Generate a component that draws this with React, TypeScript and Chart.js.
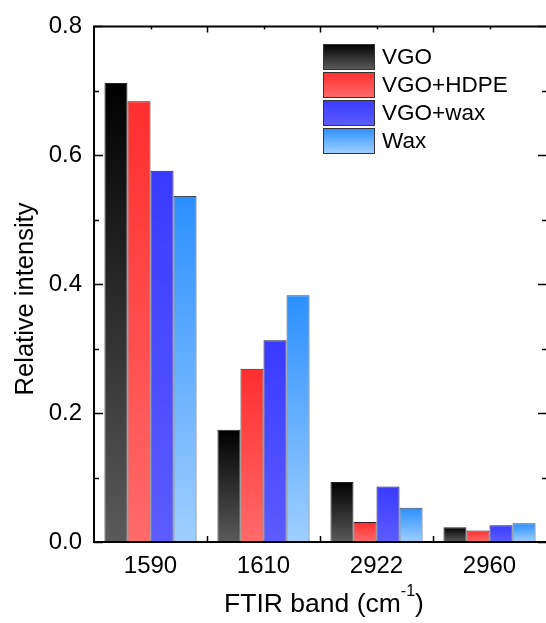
import { useEffect, useRef } from "react";
import { Chart, registerables } from "chart.js";

Chart.register(...registerables);

const bands = ["1590", "1610", "2922", "2960"];
const vgo = [0.712, 0.174, 0.093, 0.023];
const vgoHdpe = [0.684, 0.269, 0.031, 0.018];
const vgoWax = [0.576, 0.313, 0.086, 0.026];
const wax = [0.537, 0.383, 0.053, 0.029];
const seriesNames = ["VGO", "VGO+HDPE", "VGO+wax", "Wax"];
const seriesValues = [vgo, vgoHdpe, vgoWax, wax];
// top colour, bottom colour of each bar's vertical gradient
const gradientStops = [
  ["#000000", "#5a5a5a"],
  ["#ff2e2e", "#ff6a6a"],
  ["#3a3aff", "#5c5cff"],
  ["#2b8fff", "#9fcfff"],
];
const borderColors = ["#222222", "#3a1a1a", "#1a1a4a", "#3a4a5a"];
const yMin = 0;
const yMax = 0.8;
const yStep = 0.2;
const FONT = "'Liberation Sans', Arial, sans-serif";

function barGradient(ctx: any, i: number) {
  const chart = ctx.chart;
  const [c0, c1] = gradientStops[i];
  if (!chart.chartArea || ctx.type !== "data" || !chart.scales.y) return c1;
  const y = chart.scales.y;
  const top = y.getPixelForValue(ctx.raw);
  const base = y.getPixelForValue(0);
  const g = chart.ctx.createLinearGradient(0, top, 0, base);
  g.addColorStop(0, c0);
  g.addColorStop(1, c1);
  return g;
}

const framePlugin = {
  id: "frameAndLabels",
  afterDraw(chart: any) {
    const { ctx, chartArea: a, scales } = chart;
    const ys = scales.y;
    const xs = scales.x;
    ctx.save();
    ctx.strokeStyle = "#000";
    ctx.lineWidth = 2;
    ctx.beginPath();
    ctx.moveTo(a.right + 2, a.top);
    ctx.lineTo(a.left, a.top);
    ctx.lineTo(a.left, a.bottom);
    ctx.lineTo(a.right + 2, a.bottom);
    ctx.stroke();

    // inward ticks on left and right
    ctx.lineWidth = 1.5;
    for (let v = yMin; v <= yMax + 1e-9; v += yStep / 2) {
      const p = Math.round(ys.getPixelForValue(v)) + 0.5;
      const major = Math.abs(v / yStep - Math.round(v / yStep)) < 1e-6;
      const len = major ? 9 : 5;
      ctx.beginPath();
      ctx.moveTo(a.left, p);
      ctx.lineTo(a.left + len, p);
      ctx.moveTo(a.right + 1, p);
      ctx.lineTo(a.right + 1 - len, p);
      ctx.stroke();
    }
    // ticks along bottom and top between / at categories
    const n = bands.length;
    const w = (a.right - a.left) / n;
    for (let k = 1; k < n; k++) {
      const x = Math.round(a.left + k * w) + 0.5;
      ctx.beginPath();
      ctx.moveTo(x, a.bottom);
      ctx.lineTo(x, a.bottom - 6);
      ctx.moveTo(x, a.top);
      ctx.lineTo(x, a.top + 6);
      ctx.stroke();
    }
    for (let k = 0; k < n; k++) {
      const x = Math.round(xs.getPixelForValue(k)) + 0.5;
      ctx.beginPath();
      ctx.moveTo(x, a.top);
      ctx.lineTo(x, a.top + 3);
      ctx.stroke();
    }

    // legend
    const lx = 323;
    const ly = 44;
    const bw = 51;
    const bh = 25;
    const gap = 28;
    ctx.font = `22.5px ${FONT}`;
    ctx.textBaseline = "middle";
    ctx.textAlign = "left";
    for (let i = 0; i < seriesNames.length; i++) {
      const y0 = ly + i * gap;
      const [c0, c1] = gradientStops[i];
      const g = ctx.createLinearGradient(0, y0, 0, y0 + bh);
      g.addColorStop(0, c0);
      g.addColorStop(1, c1);
      ctx.fillStyle = g;
      ctx.fillRect(lx, y0, bw, bh);
      ctx.strokeStyle = "#333";
      ctx.lineWidth = 1;
      ctx.strokeRect(lx + 0.5, y0 + 0.5, bw, bh);
      ctx.fillStyle = "#000";
      ctx.fillText(seriesNames[i], lx + bw + 8, y0 + bh / 2 + 1);
    }

    // axis titles
    ctx.fillStyle = "#000";
    ctx.textBaseline = "alphabetic";
    const main = "FTIR band (cm";
    const sup = "-1";
    const tail = ")";
    ctx.font = `26.5px ${FONT}`;
    const wMain = ctx.measureText(main).width;
    const wTail = ctx.measureText(tail).width;
    ctx.font = `16px ${FONT}`;
    const wSup = ctx.measureText(sup).width;
    const total = wMain + wSup + wTail;
    const cx = 324;
    const x0 = cx - total / 2;
    const base = 612;
    ctx.font = `26.5px ${FONT}`;
    ctx.fillText(main, x0, base);
    ctx.font = `16px ${FONT}`;
    ctx.fillText(sup, x0 + wMain, base - 16);
    ctx.font = `26.5px ${FONT}`;
    ctx.fillText(tail, x0 + wMain + wSup, base);

    ctx.font = `25.5px ${FONT}`;
    ctx.translate(33, 299);
    ctx.rotate(-Math.PI / 2);
    ctx.textAlign = "center";
    ctx.fillText("Relative intensity", 0, 0);
    ctx.restore();
  },
};

export default function App() {
  const ref = useRef<HTMLCanvasElement>(null);
  useEffect(() => {
    document.body.style.margin = "0";
    const canvas = ref.current!;
    const chart = new Chart(canvas, {
      type: "bar",
      data: {
        labels: bands,
        datasets: seriesValues.map((vals, i) => ({
          label: seriesNames[i],
          data: vals,
          backgroundColor: (ctx: any) => barGradient(ctx, i),
          borderColor: borderColors[i],
          borderWidth: 1,
          categoryPercentage: 0.815,
          barPercentage: 1,
        })),
      },
      options: {
        animation: false,
        responsive: false,
        devicePixelRatio: 1,
        layout: { padding: { top: 24, right: 0, left: 0, bottom: 0 } },
        plugins: { legend: { display: false }, tooltip: { enabled: false } },
        scales: {
          x: {
            grid: { display: false, drawTicks: false },
            border: { display: false },
            ticks: { color: "#000", font: { family: FONT, size: 24 }, padding: 10 },
            afterFit: (s: any) => {
              s.height = 81;
            },
          },
          y: {
            min: yMin,
            max: yMax,
            grid: { display: false, drawTicks: false },
            border: { display: false },
            ticks: {
              stepSize: yStep,
              color: "#000",
              font: { family: FONT, size: 24 },
              padding: 12,
              callback: (v: any) => Number(v).toFixed(1),
            },
            afterFit: (s: any) => {
              s.width = 94;
            },
          },
        },
      },
      plugins: [framePlugin],
    });
    return () => chart.destroy();
  }, []);
  return <canvas ref={ref} width={546} height={623} style={{ display: "block" }} />;
}
